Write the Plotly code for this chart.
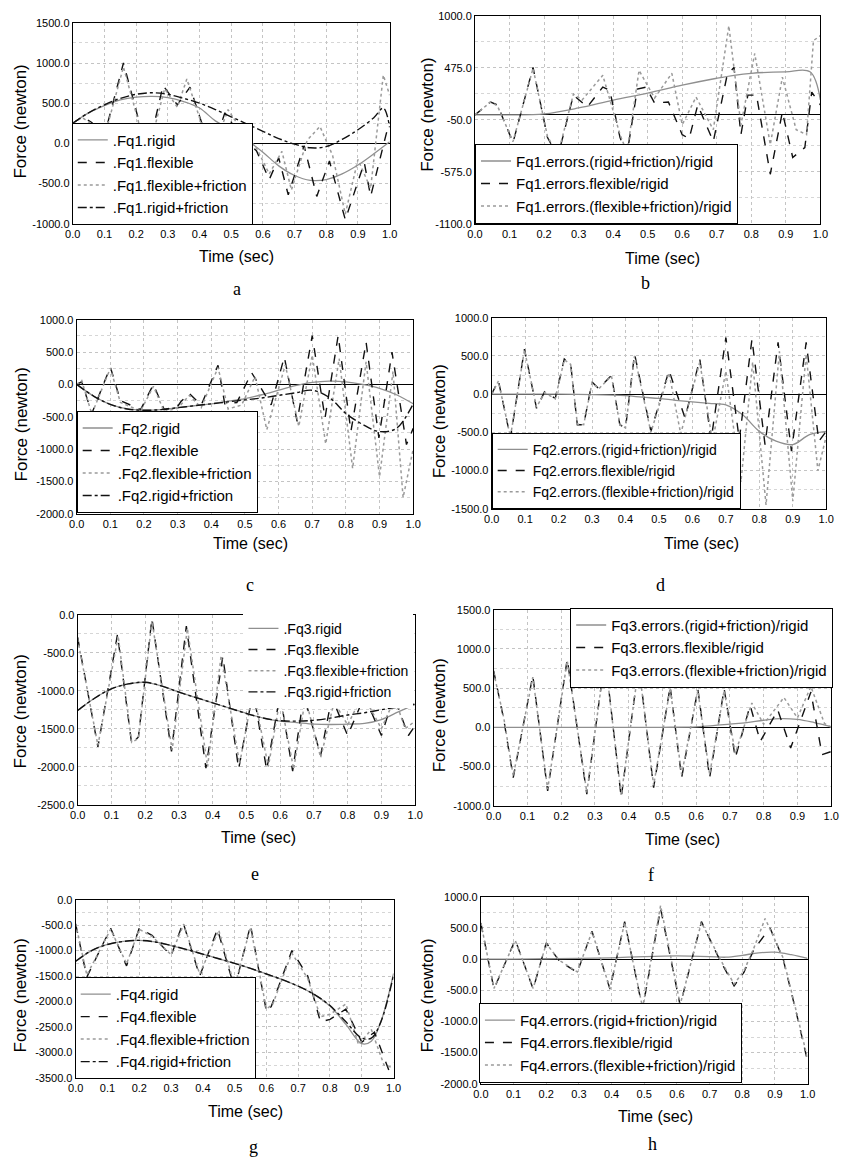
import plotly.graph_objects as go

W, H = 847, 1165

# ---------------- data ----------------
# Panel a : Fq1
a_t_smooth = [0, 0.05, 0.1, 0.15, 0.2, 0.25, 0.3, 0.35, 0.4, 0.45, 0.5, 0.55, 0.6, 0.65, 0.7, 0.75, 0.8, 0.85, 0.9, 0.95, 1.0]
a_rigid = [250, 380, 470, 540, 575, 585, 570, 520, 440, 280, 170, 40, -110, -280, -400, -460, -450, -380, -270, -130, 20]
a_t_rf = [0, 0.05, 0.1, 0.15, 0.2, 0.25, 0.3, 0.35, 0.4, 0.45, 0.5, 0.55, 0.6, 0.65, 0.7, 0.75, 0.8, 0.85, 0.9, 0.95, 0.98, 1.0]
a_rigid_fric = [250, 380, 480, 560, 610, 630, 610, 560, 500, 420, 330, 240, 150, 60, -10, -55, -40, 50, 170, 320, 440, 200]
a_t_flex = [0, 0.03, 0.06, 0.1, 0.16, 0.21, 0.24, 0.285, 0.33, 0.37, 0.41, 0.44, 0.48, 0.52, 0.58, 0.62, 0.65, 0.68, 0.73, 0.77, 0.81, 0.86, 0.92, 0.94, 0.99, 1.0]
a_flex = [250, 330, 260, 100, 1000, 260, -50, 720, 480, 700, 220, -100, 380, 150, -95, -450, -180, -640, -30, -660, -220, -950, -240, -660, 130, 260]
a_t_ff = [0, 0.03, 0.06, 0.1, 0.16, 0.21, 0.24, 0.29, 0.33, 0.36, 0.41, 0.44, 0.49, 0.53, 0.58, 0.62, 0.66, 0.69, 0.74, 0.78, 0.82, 0.86, 0.9, 0.94, 0.98, 1.0]
a_flex_fric = [250, 320, 240, 80, 950, 230, -80, 680, 450, 800, 200, -120, 420, 180, -60, -380, -100, -580, 40, 210, -150, -880, -200, -560, 850, 600]

# Panel b : Fq1 errors
b_t_rf = [0, 0.1, 0.2, 0.3, 0.4, 0.5, 0.6, 0.7, 0.75, 0.8, 0.9, 0.97, 1.0]
b_err_rf = [0, 0, 10, 70, 150, 220, 300, 370, 400, 420, 435, 435, 150]
b_t_flex = [0, 0.045, 0.065, 0.11, 0.168, 0.21, 0.24, 0.285, 0.325, 0.37, 0.39, 0.42, 0.44, 0.47, 0.495, 0.52, 0.56, 0.6, 0.62, 0.645, 0.69, 0.73, 0.75, 0.77, 0.79, 0.815, 0.855, 0.89, 0.92, 0.955, 0.975, 1.0]
b_err_flex = [0, 130, 100, -280, 480, -230, -420, 200, 80, 280, 250, -230, -400, 260, 280, 120, 130, -200, -240, 100, -270, 400, 480, -200, 200, 200, -600, 30, -430, -330, 230, 100]
b_t_ff = [0, 0.045, 0.065, 0.11, 0.168, 0.21, 0.24, 0.285, 0.31, 0.37, 0.42, 0.44, 0.475, 0.52, 0.57, 0.6, 0.64, 0.69, 0.735, 0.77, 0.81, 0.855, 0.89, 0.93, 0.96, 0.98, 1.0]
b_err_ff = [0, 130, 90, -270, 470, -220, -400, 210, 150, 400, -200, -380, 450, 170, 420, -100, 180, -150, 900, -100, 620, -300, 380, -150, -200, 750, 800]

# Panel c : Fq2
c_t_smooth = [0, 0.05, 0.1, 0.15, 0.2, 0.25, 0.3, 0.35, 0.4, 0.45, 0.5, 0.55, 0.6, 0.65, 0.7, 0.75, 0.8, 0.85, 0.9, 0.95, 1.0]
c_rigid = [0, -180, -310, -380, -400, -390, -360, -330, -300, -260, -220, -160, -90, -20, 30, 50, 40, 0, -60, -160, -300]
c_rigid_fric = [0, -180, -310, -380, -400, -390, -360, -330, -300, -270, -240, -210, -170, -130, -90, -200, -450, -620, -730, -680, -300]
c_t_flex = [0, 0.015, 0.045, 0.1, 0.13, 0.19, 0.228, 0.26, 0.3, 0.31, 0.335, 0.37, 0.42, 0.44, 0.476, 0.52, 0.578, 0.617, 0.655, 0.7, 0.738, 0.777, 0.815, 0.86, 0.898, 0.937, 0.98, 1.0]
c_flex = [0, 40, -450, 270, -250, -390, 0, -390, -340, -265, -140, -320, 296, -300, -280, 180, -316, 423, -571, 755, -520, 755, -725, 653, -826, 500, -930, -680]
c_t_ff = [0, 0.015, 0.045, 0.1, 0.13, 0.19, 0.228, 0.26, 0.3, 0.335, 0.37, 0.42, 0.45, 0.49, 0.53, 0.565, 0.62, 0.66, 0.7, 0.74, 0.78, 0.82, 0.86, 0.9, 0.94, 0.97, 1.0]
c_flex_fric = [0, 60, -460, 250, -280, -410, -30, -420, -370, -170, -360, 260, -380, -320, 120, -700, 300, -650, 450, -920, 400, -1300, 350, -1430, 200, -1750, -1000]

# Panel d : Fq2 errors
d_t_rf = [0, 0.1, 0.2, 0.3, 0.4, 0.45, 0.5, 0.55, 0.6, 0.65, 0.7, 0.75, 0.8, 0.85, 0.9, 0.95, 1.0]
d_err_rf = [0, 0, 0, -5, -20, -40, -56, -80, -100, -120, -140, -270, -487, -616, -660, -530, -487]
d_t_flex = [0, 0.02, 0.056, 0.098, 0.134, 0.158, 0.19, 0.217, 0.236, 0.256, 0.275, 0.3, 0.32, 0.358, 0.383, 0.4, 0.427, 0.476, 0.53, 0.578, 0.622, 0.656, 0.7, 0.74, 0.778, 0.817, 0.856, 0.896, 0.94, 0.978, 1.0]
d_err_flex = [0, 180, -570, 590, -185, 30, -56, 460, 397, -400, -400, 160, 73, 245, -400, -444, 526, -487, 310, -314, 461, -595, 741, -595, 720, -660, 677, -746, 677, -616, -487]
d_t_ff = [0, 0.02, 0.056, 0.098, 0.134, 0.158, 0.19, 0.217, 0.236, 0.256, 0.275, 0.3, 0.32, 0.358, 0.383, 0.4, 0.427, 0.476, 0.53, 0.565, 0.622, 0.66, 0.7, 0.745, 0.78, 0.82, 0.86, 0.9, 0.94, 0.975, 1.0]
d_err_ff = [0, 170, -560, 580, -170, 20, -60, 450, 390, -390, -400, 150, 70, 240, -400, -440, 500, -500, 280, -520, 420, -620, 300, -1150, 420, -1450, 560, -1400, 520, -1000, -550]

# Panel e : Fq3
e_t_smooth = [0, 0.05, 0.1, 0.15, 0.2, 0.25, 0.3, 0.35, 0.4, 0.45, 0.5, 0.55, 0.6, 0.65, 0.7, 0.75, 0.8, 0.85, 0.9, 0.95, 1.0]
e_rigid = [-1260, -1100, -975, -910, -890, -940, -1020, -1090, -1160, -1230, -1300, -1360, -1400, -1420, -1440, -1445, -1440, -1430, -1380, -1280, -1180]
e_rigid_fric = [-1260, -1100, -975, -910, -890, -940, -1020, -1090, -1160, -1230, -1300, -1360, -1395, -1400, -1390, -1360, -1320, -1290, -1250, -1215, -1175]
e_t_flex = [0, 0.06, 0.118, 0.16, 0.18, 0.22, 0.278, 0.322, 0.38, 0.43, 0.477, 0.52, 0.56, 0.6, 0.637, 0.67, 0.72, 0.753, 0.8, 0.85, 0.9, 0.937, 0.98, 1.0]
e_flex = [-300, -1740, -260, -1700, -1610, -50, -1800, -150, -2020, -550, -2030, -1000, -2040, -1050, -2060, -1060, -1850, -1090, -1590, -1070, -1590, -1070, -1590, -1460]
e_t_ff = [0, 0.06, 0.12, 0.16, 0.18, 0.22, 0.28, 0.325, 0.385, 0.425, 0.48, 0.52, 0.565, 0.6, 0.64, 0.675, 0.72, 0.76, 0.8, 0.845, 0.9, 0.94, 0.97, 1.0]
e_flex_fric = [-320, -1720, -280, -1680, -1630, -80, -1780, -180, -2000, -540, -1960, -1000, -2000, -1100, -2030, -1100, -1880, -1150, -1450, -1050, -1500, -1100, -1500, -1400]

# Panel f : Fq3 errors
f_t_rf = [0, 0.1, 0.2, 0.3, 0.4, 0.5, 0.6, 0.65, 0.7, 0.75, 0.8, 0.85, 0.9, 0.95, 1.0]
f_err_rf = [0, 0, 0, 0, 0, 0, 5, 20, 40, 60, 90, 110, 100, 60, 10]
f_t_flex = [0, 0.03, 0.058, 0.116, 0.16, 0.218, 0.276, 0.33, 0.378, 0.43, 0.474, 0.523, 0.557, 0.605, 0.64, 0.683, 0.716, 0.76, 0.79, 0.842, 0.88, 0.94, 0.973, 1.0]
f_err_flex = [720, 100, -643, 660, -810, 870, -853, 900, -895, 800, -769, 520, -643, 490, -643, 490, -390, 280, -180, 220, -265, 450, -350, -310]
f_t_ff = [0, 0.03, 0.058, 0.116, 0.16, 0.218, 0.276, 0.33, 0.378, 0.43, 0.474, 0.523, 0.557, 0.605, 0.64, 0.683, 0.716, 0.765, 0.8, 0.86, 0.9, 0.94, 0.98, 1.0]
f_err_ff = [700, 120, -620, 640, -790, 850, -830, 880, -870, 780, -740, 500, -600, 470, -600, 470, -330, 310, 40, 380, 120, 520, 50, 0]

# Panel g : Fq4
g_t_smooth = [0, 0.05, 0.1, 0.15, 0.2, 0.25, 0.3, 0.35, 0.4, 0.45, 0.5, 0.55, 0.6, 0.65, 0.7, 0.75, 0.8, 0.85, 0.9, 0.93, 0.96, 1.0]
g_rigid = [-1210, -1000, -880, -820, -800, -830, -900, -980, -1070, -1160, -1250, -1350, -1460, -1570, -1700, -1860, -2090, -2450, -2830, -2780, -2400, -1450]
g_rigid_fric = [-1210, -1000, -880, -820, -800, -830, -900, -980, -1070, -1160, -1250, -1350, -1460, -1570, -1700, -1860, -2080, -2400, -2720, -2720, -2400, -1480]
g_t_flex = [0, 0.035, 0.11, 0.16, 0.2, 0.24, 0.3, 0.338, 0.39, 0.446, 0.5, 0.55, 0.6, 0.615, 0.68, 0.73, 0.77, 0.8, 0.85, 0.9, 0.94, 0.985, 1.0]
g_flex = [-480, -1520, -560, -1300, -560, -700, -1100, -450, -1500, -580, -1750, -500, -2200, -2100, -1000, -1500, -2400, -2350, -2150, -2800, -2600, -3350, -3200]
g_t_ff = [0, 0.035, 0.11, 0.16, 0.2, 0.24, 0.3, 0.34, 0.39, 0.45, 0.5, 0.55, 0.6, 0.62, 0.68, 0.73, 0.77, 0.8, 0.85, 0.89, 0.93, 0.97, 1.0]
g_flex_fric = [-470, -1480, -580, -1260, -580, -720, -1080, -480, -1460, -600, -1700, -540, -2150, -2050, -1050, -1550, -2300, -2250, -2050, -2850, -2550, -3250, -3300]

# Panel h : Fq4 errors
h_t_rf = [0, 0.1, 0.2, 0.3, 0.4, 0.5, 0.6, 0.7, 0.75, 0.8, 0.85, 0.9, 0.95, 1.0]
h_err_rf = [0, 0, 5, 10, 20, 40, 50, 40, 30, 60, 100, 110, 70, 10]
h_t_flex = [0, 0.04, 0.105, 0.16, 0.2, 0.24, 0.295, 0.34, 0.395, 0.44, 0.495, 0.55, 0.61, 0.675, 0.73, 0.775, 0.805, 0.835, 0.885, 0.925, 0.965, 1.0]
h_err_flex = [575, -480, 310, -480, 260, -30, -215, 445, -480, 600, -800, 810, -745, 600, 0, -430, -215, 150, 500, 0, -850, -1640]
h_t_ff = [0, 0.04, 0.105, 0.16, 0.2, 0.24, 0.295, 0.34, 0.395, 0.44, 0.495, 0.55, 0.61, 0.675, 0.73, 0.775, 0.805, 0.835, 0.87, 0.925, 0.965, 1.0]
h_err_ff = [580, -470, 300, -470, 250, -20, -205, 440, -470, 590, -780, 860, -730, 590, 20, -400, -190, 170, 650, 20, -830, -1600]

# y-axis tick values
a_ticks = [-1000, -500, 0, 500, 1000, 1500]
b_ticks = [-1100, -575, -50, 475, 1000]
c_ticks = [-2000, -1500, -1000, -500, 0, 500, 1000]
d_ticks = [-1500, -1000, -500, 0, 500, 1000]
e_ticks = [-2500, -2000, -1500, -1000, -500, 0]
f_ticks = [-1000, -500, 0, 500, 1000, 1500]
g_ticks = [-3500, -3000, -2500, -2000, -1500, -1000, -500, 0]
h_ticks = [-2000, -1500, -1000, -500, 0, 500, 1000]
x_ticks = [0.0, 0.1, 0.2, 0.3, 0.4, 0.5, 0.6, 0.7, 0.8, 0.9, 1.0]

# ---------------- styles ----------------
GRAY = "#8f8f8f"
BLACK = "#111111"
STY = {
    "rigid": dict(color=GRAY, dash="solid", width=1.3),
    "flex": dict(color=BLACK, dash="dash", width=1.4),
    "ff": dict(color="#9a9a9a", dash="dot", width=1.5),
    "rf": dict(color=BLACK, dash="dashdot", width=1.4),
    "erf": dict(color=GRAY, dash="solid", width=1.3),
    "eflex": dict(color=BLACK, dash="dash", width=1.4),
    "eff": dict(color="#9a9a9a", dash="dot", width=1.5),
}

def traces_force(n, tr, rr, tf, ff, tff, fff, trf, rf):
    return [
        (tr, rr, "rigid", f".Fq{n}.rigid", "spline"),
        (tf, ff, "flex", f".Fq{n}.flexible", "linear"),
        (tff, fff, "ff", f".Fq{n}.flexible+friction", "linear"),
        (trf, rf, "rf", f".Fq{n}.rigid+friction", "spline"),
    ]

def traces_err(n, trf, rf, tf, ff, tff, fff):
    return [
        (trf, rf, "erf", f"Fq{n}.errors.(rigid+friction)/rigid", "spline"),
        (tf, ff, "eflex", f"Fq{n}.errors.flexible/rigid", "linear"),
        (tff, fff, "eff", f"Fq{n}.errors.(flexible+friction)/rigid", "linear"),
    ]

# panel geometry in pixels: plot box (l, r, t, b); legend (x, y, anchor, border, font size)
panels = [
    dict(cap="a", box=(66, 389, 17, 220), rng=(-1000, 1500), ticks=a_ticks, minor=250,
         leg=(65, 221, "bottom", True, 15), capxy=(233, 286), timexy=(233, 253), forcexy=(13, 117),
         tr=traces_force(1, a_t_smooth, a_rigid, a_t_flex, a_flex, a_t_ff, a_flex_fric, a_t_rf, a_rigid_fric)),
    dict(cap="b", box=(476, 828, 10, 220), rng=(-1100, 1000), ticks=b_ticks, minor=262.5,
         leg=(476, 220, "bottom", True, 15), capxy=(650, 280), timexy=(667, 255), forcexy=(428, 110),
         tr=traces_err(1, b_t_rf, b_err_rf, b_t_flex, b_err_flex, b_t_ff, b_err_ff)),
    dict(cap="c", box=(70, 413, 317, 513), rng=(-2000, 1000), ticks=c_ticks, minor=250,
         leg=(70, 512, "bottom", True, 15), capxy=(247, 585), timexy=(247, 543), forcexy=(14, 423),
         tr=traces_force(2, c_t_smooth, c_rigid, c_t_flex, c_flex, c_t_ff, c_flex_fric, c_t_smooth, c_rigid_fric)),
    dict(cap="d", box=(493, 834, 315, 508), rng=(-1500, 1000), ticks=d_ticks, minor=250,
         leg=(493, 508, "bottom", True, 14), capxy=(665, 585), timexy=(707, 543), forcexy=(440, 420),
         tr=traces_err(2, d_t_rf, d_err_rf, d_t_flex, d_err_flex, d_t_ff, d_err_ff)),
    dict(cap="e", box=(71, 415, 615, 807), rng=(-2500, 0), ticks=e_ticks, minor=250,
         leg=(240, 613, "top", False, 14), capxy=(252, 877), timexy=(255, 840), forcexy=(13, 713),
         tr=traces_force(3, e_t_smooth, e_rigid, e_t_flex, e_flex, e_t_ff, e_flex_fric, e_t_smooth, e_rigid_fric)),
    dict(cap="f", box=(495, 839, 610, 808), rng=(-1000, 1500), ticks=f_ticks, minor=250,
         leg=(573, 608, "top", True, 15), capxy=(655, 878), timexy=(687, 842), forcexy=(440, 717),
         tr=traces_err(3, f_t_rf, f_err_rf, f_t_flex, f_err_flex, f_t_ff, f_err_ff)),
    dict(cap="g", box=(69, 393, 903, 1083), rng=(-3500, 0), ticks=g_ticks, minor=250,
         leg=(68, 1084, "bottom", True, 15), capxy=(250, 1153), timexy=(242, 1117), forcexy=(13, 1000),
         tr=traces_force(4, g_t_smooth, g_rigid, g_t_flex, g_flex, g_t_ff, g_flex_fric, g_t_smooth, g_rigid_fric)),
    dict(cap="h", box=(482, 815, 900, 1089), rng=(-2000, 1000), ticks=h_ticks, minor=250,
         leg=(480, 1088, "bottom", True, 15), capxy=(657, 1150), timexy=(660, 1122), forcexy=(428, 1000),
         tr=traces_err(4, h_t_rf, h_err_rf, h_t_flex, h_err_flex, h_t_ff, h_err_ff)),
]

SANS = "Liberation Sans, Arial, sans-serif"
fig = go.Figure()
layout = dict(width=W, height=H, autosize=False, margin=dict(l=0, r=0, t=0, b=0),
              paper_bgcolor="white", plot_bgcolor="white", showlegend=True,
              font=dict(family=SANS, color="black"))
annotations = []

for i, p in enumerate(panels):
    k = "" if i == 0 else str(i + 1)
    l, r, t, b = p["box"]
    xa = dict(domain=[l / W, r / W], range=[0, 1], anchor="y" + k,
              tickvals=x_ticks, ticktext=[f"{v:.1f}" for v in x_ticks],
              showline=True, linecolor="black", linewidth=1, mirror=True,
              showgrid=True, gridcolor="#c4c4c4", griddash="dot", gridwidth=1,
              zeroline=False, ticks="", tickfont=dict(size=11, family=SANS, color="black"))
    ya = dict(domain=[1 - b / H, 1 - t / H], range=list(p["rng"]), anchor="x" + k,
              tickvals=p["ticks"], ticktext=[f"{v:.1f}" for v in p["ticks"]],
              showline=True, linecolor="black", linewidth=1, mirror=True,
              showgrid=True, gridcolor="#c4c4c4", griddash="dot", gridwidth=1,
              minor=dict(dtick=p["minor"], tick0=p["rng"][0], showgrid=True, gridcolor="#d6d6d6", griddash="dot"),
              zeroline=True, zerolinecolor="black", zerolinewidth=1.2,
              ticks="", tickfont=dict(size=11, family=SANS, color="black"))
    layout["xaxis" + k] = xa
    layout["yaxis" + k] = ya
    legname = "legend" + k
    lx, ly, anc, border, fs = p["leg"]
    layout[legname] = dict(x=lx / W, y=1 - ly / H, xanchor="left", yanchor=anc,
                           bgcolor="white", bordercolor="black",
                           borderwidth=1 if border else 0,
                           font=dict(size=fs, family=SANS, color="black"),
                           itemwidth=30, tracegroupgap=0)
    for j, (tx, ty, sty, name, shape) in enumerate(p["tr"]):
        fig.add_trace(go.Scatter(x=tx, y=ty, mode="lines", name=name,
                                 line=dict(shape=shape, **STY[sty]),
                                 xaxis="x" + k, yaxis="y" + k, legend=legname))
    cx, cy = p["capxy"]
    annotations.append(dict(text=p["cap"], x=cx / W, y=1 - cy / H, xref="paper", yref="paper",
                            showarrow=False, xanchor="center", yanchor="middle",
                            font=dict(size=18, family="Liberation Serif, Times New Roman, serif")))
    tx_, ty_ = p["timexy"]
    annotations.append(dict(text="Time (sec)", x=tx_ / W, y=1 - ty_ / H, xref="paper", yref="paper",
                            showarrow=False, xanchor="center", yanchor="middle",
                            font=dict(size=16, family=SANS)))
    fx, fy = p["forcexy"]
    annotations.append(dict(text="Force (newton)", x=fx / W, y=1 - fy / H, xref="paper", yref="paper",
                            showarrow=False, xanchor="center", yanchor="middle", textangle=-90,
                            font=dict(size=17, family=SANS)))

layout["annotations"] = annotations
fig.update_layout(**layout)
fig.write_html("out.html", config={"displayModeBar": False},
               post_script="document.body.style.margin='0';document.body.style.padding='0';")
